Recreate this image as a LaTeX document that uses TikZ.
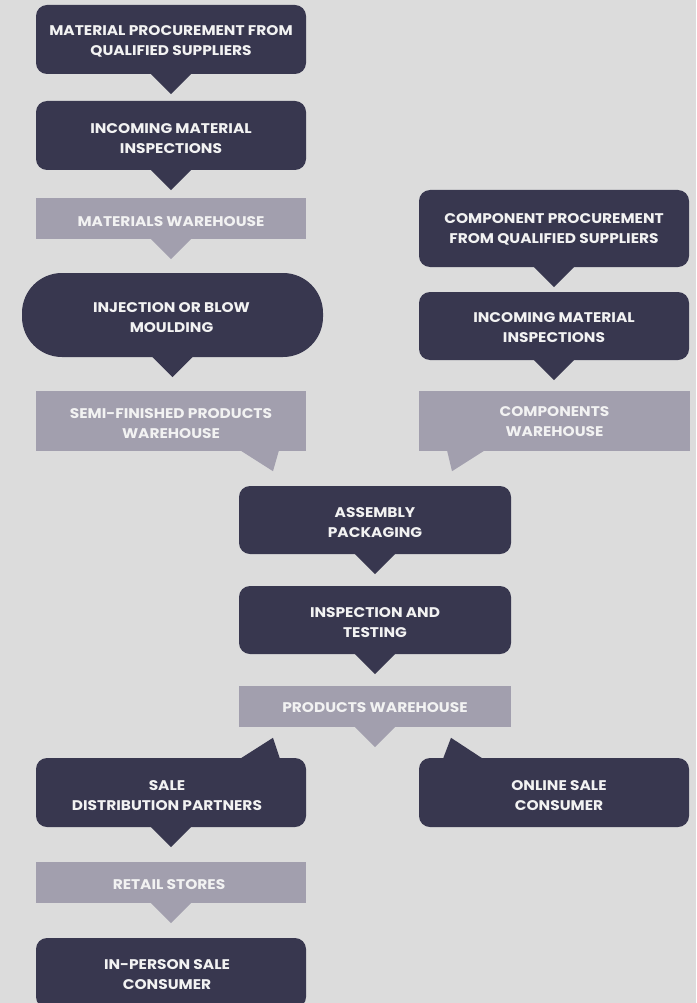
\documentclass[tikz,border=0pt]{standalone}
\usepackage{fontspec}
\setmainfont{Poppins}[FakeStretch=1.1]
\usetikzlibrary{calc}
\definecolor{bg}{HTML}{DCDCDC}
\definecolor{darkc}{HTML}{38374F}
\definecolor{lightc}{HTML}{A29FAE}
\definecolor{txtc}{HTML}{F2F2F2}
\tikzset{
  box/.style={rectangle, minimum width=270pt, inner sep=0pt},
  darkbox/.style={box, fill=darkc, rounded corners=11pt},
  lightbox/.style={box, fill=lightc},
  txt/.style={align=center, text=txtc, inner sep=0pt,
    font=\fontsize{14}{20}\selectfont\bfseries},
  ptrdark/.style={fill=darkc},
  ptrlight/.style={fill=lightc},
}
\begin{document}
\begin{tikzpicture}[x=1pt,y=-1pt]
\useasboundingbox (0,0) rectangle (696,1003);
\fill[bg] (0,0) rectangle (696,1003);

% left column
\node[darkbox, minimum height=69pt] (m1) at (171,39.5) {};
\node[darkbox, minimum height=69pt] (m2) at (171,135.5) {};
\node[lightbox, minimum height=41pt] (mw) at (171,218.5) {};
\node[darkbox, minimum width=301pt, minimum height=84pt, rounded corners=40pt] (inj) at (172.5,315) {};
\node[lightbox, minimum height=60pt] (sf) at (171,421) {};

% right column
\node[darkbox, minimum height=77pt] (c1) at (554,228.5) {};
\node[darkbox, minimum height=68pt] (c2) at (554,326) {};
\node[lightbox, minimum width=271pt, minimum height=60pt] (cw) at (554.5,421) {};

% centre
\node[darkbox, minimum width=272pt, minimum height=68pt] (asm) at (375,520) {};
\node[darkbox, minimum width=272pt, minimum height=68pt] (insp) at (375,620) {};
\node[lightbox, minimum width=272pt, minimum height=41pt] (pw) at (375,706.5) {};

% bottom
\node[darkbox, minimum height=69pt] (sale) at (171,792.5) {};
\node[darkbox, minimum height=69pt] (online) at (554,792.5) {};
\node[lightbox, minimum height=41pt] (retail) at (171,882.5) {};
\node[darkbox, minimum height=70pt] (inp) at (171,973) {};

% texts
\node[txt] (m1t) at ($(m1)+(0,2)$) {MATERIAL PROCUREMENT FROM\\QUALIFIED SUPPLIERS};
\node[txt] (m2t) at ($(m2)+(0,3)$) {INCOMING MATERIAL\\INSPECTIONS};
\node[txt] (mwt) at ($(mw)+(0,3)$) {MATERIALS WAREHOUSE};
\node[txt] (injt) at ($(inj)+(-1,3)$) {INJECTION OR BLOW\\MOULDING};
\node[txt] (sft) at ($(sf)+(0,3)$) {SEMI-FINISHED PRODUCTS\\WAREHOUSE};
\node[txt] (c1t) at ($(c1)+(0,1)$) {COMPONENT PROCUREMENT\\FROM QUALIFIED SUPPLIERS};
\node[txt] (c2t) at ($(c2)+(0,2)$) {INCOMING MATERIAL\\INSPECTIONS};
\node[txt] (cwt) at ($(cw)+(0,1)$) {COMPONENTS\\WAREHOUSE};
\node[txt] (asmt) at ($(asm)+(0,3)$) {ASSEMBLY\\PACKAGING};
\node[txt] (inspt) at ($(insp)+(0,3)$) {INSPECTION AND\\TESTING};
\node[txt] (pwt) at ($(pw)+(0,1)$) {PRODUCTS WAREHOUSE};
\node[txt] (salet) at ($(sale)+(-4,3)$) {SALE\\DISTRIBUTION PARTNERS};
\node[txt] (onlinet) at ($(online)+(5,3)$) {ONLINE SALE\\CONSUMER};
\node[txt] (retailt) at ($(retail)+(-2,2)$) {RETAIL STORES};
\node[txt] (inpt) at ($(inp)+(-4,2)$) {IN-PERSON SALE\\CONSUMER};

% pointers (downward)
\foreach \n in {m1,m2,inj,c1,c2,asm,insp,sale}{
  \fill[ptrdark] ($(\n.south)+(-21,-1)$) -- ($(\n.south)+(21,-1)$) -- ($(\n.south)+(0,20)$) -- cycle;
}
\foreach \n in {mw,pw,retail}{
  \fill[ptrlight] ($(\n.south)+(-21,-1)$) -- ($(\n.south)+(21,-1)$) -- ($(\n.south)+(0,20)$) -- cycle;
}
% slanted pointers
\fill[ptrlight] ($(sf.south)+(69,-1)$) -- ($(sf.south)+(108,-1)$) -- ($(sf.south)+(102,20)$) -- cycle;
\fill[ptrlight] ($(cw.south)+(-107.5,-1)$) -- ($(cw.south)+(-69.5,-1)$) -- ($(cw.south)+(-102.5,20)$) -- cycle;
\fill[ptrdark] ($(sale.north)+(69,1)$) -- ($(sale.north)+(109,1)$) -- ($(sale.north)+(102,-20)$) -- cycle;
\fill[ptrdark] ($(online.north)+(-111,1)$) -- ($(online.north)+(-71,1)$) -- ($(online.north)+(-103,-20)$) -- cycle;
\end{tikzpicture}
\end{document}
